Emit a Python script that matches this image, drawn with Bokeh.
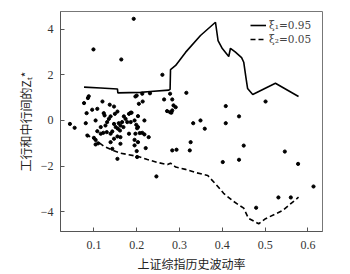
from bokeh.plotting import figure
from bokeh.models import Range1d, Legend, LegendItem, FixedTicker
from bokeh.embed import file_html
from bokeh.resources import INLINE

# Upper quantile line (xi1 = 0.95)
upper_x = [0.077, 0.116, 0.155, 0.156, 0.209, 0.232, 0.275, 0.278, 0.279, 0.291, 0.314,
           0.349, 0.384, 0.390, 0.400, 0.415, 0.419, 0.430, 0.445, 0.450, 0.455, 0.459,
           0.471, 0.524, 0.578]
upper_y = [1.46, 1.42, 1.38, 1.21, 1.23, 1.27, 1.33, 1.36, 2.23, 2.41, 2.98,
           3.72, 4.30, 3.50, 3.15, 2.80, 3.16, 3.00, 2.75, 2.55, 1.90, 1.40,
           1.14, 1.63, 1.05]

# Lower quantile line (xi2 = 0.05)
lower_x = [0.081, 0.099, 0.123, 0.144, 0.162, 0.179, 0.204, 0.225, 0.249, 0.272, 0.279,
           0.291, 0.314, 0.338, 0.366, 0.391, 0.403, 0.426, 0.450, 0.461, 0.485, 0.501,
           0.541, 0.578]
lower_y = [-0.61, -0.79, -1.12, -1.31, -1.43, -1.49, -1.58, -1.71, -1.84, -1.93, -1.87,
           -2.04, -2.14, -2.28, -2.41, -2.92, -3.19, -3.54, -3.84, -4.28, -4.52, -4.30,
           -3.94, -3.36]

# Observations
pts_x = [0.193, 0.099, 0.164, 0.260, 0.044, 0.055,
         0.088, 0.086, 0.077, 0.120, 0.137, 0.147, 0.096, 0.083, 0.108, 0.123, 0.125, 0.139,
         0.149, 0.155, 0.182, 0.188, 0.197, 0.081, 0.104, 0.135, 0.147, 0.158, 0.162, 0.166,
         0.156, 0.169, 0.161, 0.151, 0.195, 0.199, 0.203, 0.108, 0.116, 0.122, 0.130, 0.085,
         0.100, 0.182, 0.155, 0.139, 0.127, 0.116, 0.131, 0.174, 0.178, 0.170,
         0.200, 0.213, 0.231, 0.205, 0.214, 0.264, 0.278, 0.283, 0.286, 0.291, 0.271, 0.278,
         0.283, 0.281, 0.316, 0.186, 0.203, 0.218, 0.332, 0.349, 0.359, 0.201, 0.213, 0.218,
         0.228, 0.186,
         0.197, 0.207, 0.195, 0.203, 0.195, 0.221, 0.200, 0.283, 0.293, 0.326, 0.324, 0.246,
         0.143, 0.162, 0.104, 0.139, 0.147, 0.104, 0.162, 0.143, 0.155, 0.201, 0.110,
         0.408, 0.439, 0.501, 0.408, 0.450, 0.401, 0.439, 0.546, 0.577, 0.613, 0.531, 0.560,
         0.479]
pts_y = [4.45, 3.11, 2.67, 2.00, -0.15, -0.32,
         1.06, 0.98, 0.76, 0.83, 0.69, 0.61, 0.47, 0.32, 0.51, 0.32, 0.22, 0.18,
         0.29, 0.39, 0.29, 0.34, 1.05, -0.12, 0.00, 0.07, -0.15, -0.12, -0.22, -0.07,
         -0.36, -0.29, -0.44, -0.29, 0.00, -0.19, -0.29, -0.47, -0.58, -0.54, -0.51, -0.66,
         -0.76, -0.58, -0.70, -0.58, -0.22, -0.29, -0.07, 0.07, -0.07, 0.18,
         1.09, 1.17, 1.19, 0.73, 0.83, 0.92, 1.17, 0.92, 0.66, 0.58, 0.41, 0.36,
         0.44, 0.34, 1.21, 0.34, 0.19, 0.00, -0.12, 0.00, -0.36, -0.34, -0.54, -0.61,
         -0.73, -0.07,
         -0.58, -0.55, -0.85, -0.95, -1.09, -1.21, -1.34, -1.31, -1.28, -0.95, -1.31, -2.45,
         -0.48, -0.73, -0.85, -0.95, -0.80, -1.05, -1.02, -1.24, -1.68, -1.60, -1.00,
         0.63, 0.18, 0.83, -0.12, -1.10, -1.82, -1.72, -1.36, -1.90, -2.89, -3.37, -3.37,
         -3.82]

x_ticks = [0.1, 0.2, 0.3, 0.4, 0.5, 0.6]
y_ticks = [-4, -2, 0, 2, 4]
y_tick_labels = {-4: "\u22124", -2: "\u22122", 0: "0", 2: "2", 4: "4"}
legend_labels = ["ξ₁=0.95", "ξ₂=0.05"]

p = figure(width=350, height=274, output_backend="svg", toolbar_location=None,
           x_range=Range1d(0.022, 0.634), y_range=Range1d(-4.86, 4.77),
           min_border_left=60, min_border_right=28, min_border_top=11, min_border_bottom=43)
p.background_fill_color = "white"
p.border_fill_color = "white"
p.outline_line_color = "#777777"
p.outline_line_width = 1
p.xgrid.visible = False
p.ygrid.visible = False

p.scatter(pts_x, pts_y, size=3.2, color="black", line_color="black")
r_up = p.line(upper_x, upper_y, line_color="black", line_width=1.6)
r_lo = p.line(lower_x, lower_y, line_color="black", line_width=1.6, line_dash="5 3")

for ax in (p.xaxis[0], p.yaxis[0]):
    ax.major_tick_in = 4
    ax.major_tick_out = 0
    ax.minor_tick_line_color = None
    ax.axis_line_color = "#555555"
    ax.major_tick_line_color = "#555555"
    ax.major_label_text_font = "Liberation Serif"
    ax.major_label_text_font_size = "12px"
    ax.major_label_text_color = "#333333"
    ax.axis_label_text_font = "Noto Sans CJK SC"
    ax.axis_label_text_font_size = "12px"
    ax.axis_label_text_font_style = "normal"
    ax.axis_label_text_color = "#222222"

p.xaxis.ticker = FixedTicker(ticks=x_ticks)
p.yaxis.ticker = FixedTicker(ticks=y_ticks)
p.yaxis.major_label_overrides = y_tick_labels
p.xaxis.major_label_standoff = 9
p.yaxis.major_label_standoff = 7
p.xaxis.axis_label = "上证综指历史波动率"
p.yaxis.axis_label = "工行和中行间的Zₜ*"
p.xaxis.axis_label_standoff = 3
p.yaxis.axis_label_standoff = 4

for lbl, rend, loc in [(legend_labels[0], r_up, (190, 200)),
                       (legend_labels[1], r_lo, (190, 186))]:
    lg = Legend(items=[LegendItem(label=lbl, renderers=[rend])], location=loc)
    lg.background_fill_alpha = 0
    lg.border_line_color = None
    lg.label_text_font = "DejaVu Serif"
    lg.label_text_font_size = "10.5px"
    lg.glyph_width = 16
    lg.glyph_height = 8
    lg.label_height = 8
    lg.padding = 1
    lg.margin = 0
    lg.label_standoff = 3
    p.add_layout(lg)

open("out.html", "w").write(file_html(p, INLINE))
